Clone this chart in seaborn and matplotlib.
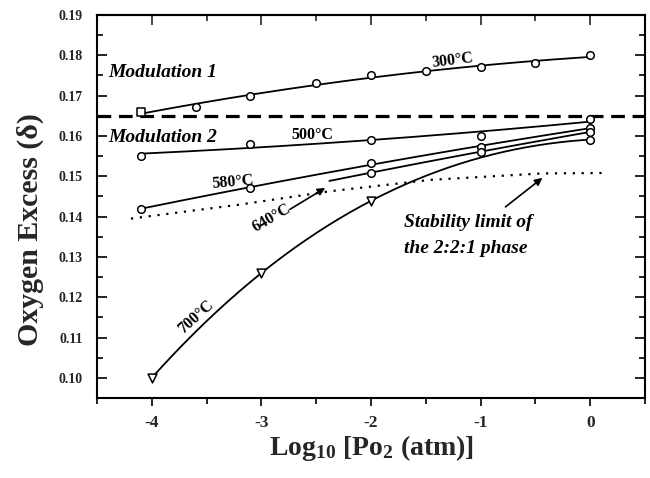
import numpy as np
import matplotlib
matplotlib.use("Agg")
import matplotlib.pyplot as plt
import seaborn as sns
from matplotlib.ticker import MultipleLocator, FormatStrFormatter

# ---------------- data ----------------
x_300 = [-4.1, -3.6, -3.1, -2.5, -2.0, -1.5, -1.0, -0.5, 0.0]
y_300 = [0.1660, 0.1671, 0.1700, 0.1731, 0.1751, 0.1761, 0.1770, 0.1780, 0.1801]
x_500 = [-4.1, -3.1, -2.0, -1.0, 0.0]
y_500 = [0.1551, 0.1580, 0.1591, 0.1600, 0.1641]
x_580 = [-4.1, -3.1, -2.0, -1.0, 0.0]
y_580 = [0.1420, 0.1471, 0.1532, 0.1573, 0.1620]
x_640 = [-2.0, -1.0, 0.0]
y_640 = [0.1509, 0.1561, 0.1610]
x_700 = [-4.0, -3.0, -2.0, 0.0]
y_700 = [0.1000, 0.1260, 0.1439, 0.1591]
x_limit = [-4.19, -3.19, -2.37, -1.46, -0.44, 0.11]
y_limit = [0.1395, 0.1430, 0.1463, 0.1491, 0.1507, 0.1508]
modulation_boundary = 0.165
x_ticks = [-4, -3, -2, -1, 0]
y_ticks = [0.10, 0.11, 0.12, 0.13, 0.14, 0.15, 0.16, 0.17, 0.18, 0.19]

# ---------------- styles ----------------
series = [
    # x, y, markers, fit order, curve start
    (x_300, y_300, ["s"] + ["o"] * 8, 2, -4.1),
    (x_500, y_500, ["o"] * 5, 2, -4.1),
    (x_580, y_580, ["o"] * 5, 2, -4.1),
    (x_640, y_640, ["o"] * 3, 2, -2.38),
    (x_700, y_700, ["v", "v", "v", "o"], 3, -4.0),
]

sns.set_style("ticks")
plt.rcParams["font.family"] = ["Liberation Serif", "DejaVu Serif"]
plt.rcParams["font.weight"] = "bold"
plt.rcParams["mathtext.fontset"] = "custom"
plt.rcParams["mathtext.rm"] = "Liberation Serif:bold"
plt.rcParams["mathtext.bf"] = "Liberation Serif:bold"
plt.rcParams["mathtext.it"] = "Liberation Serif:bold:italic"

fig = plt.figure(figsize=(6.5, 4.78), dpi=100)
ax = fig.add_axes([97 / 650, 1 - 398 / 478, 548 / 650, 383 / 478])

for xs, ys, mks, order, start in series:
    coef = np.polyfit(xs, ys, order)
    xf = np.linspace(start, max(xs), 200)
    yf = np.polyval(coef, xf)
    sns.lineplot(x=xf, y=yf, color="black", lw=1.3, ax=ax, zorder=2)
    for m in sorted(set(mks)):
        idx = [i for i, mm in enumerate(mks) if mm == m]
        sns.scatterplot(x=[xs[i] for i in idx], y=[ys[i] for i in idx], marker=m,
                        s=40 if m == "v" else 30, facecolor="white", edgecolor="black",
                        linewidth=1.1, ax=ax, zorder=3)

# stability limit (dotted)
sns.lineplot(x=x_limit, y=y_limit, color="black", lw=1.6, ax=ax,
             linestyle=(0, (1, 3.0)), zorder=1, sort=False)
# modulation boundary (thick dashed)
ax.axhline(modulation_boundary, color="black", lw=2.3, linestyle=(0, (4.3, 2.4)), zorder=1)

# axes
ax.set_xlim(-4.5, 0.5)
ax.set_ylim(0.095, 0.19)
ax.set_xticks(x_ticks)
ax.set_yticks(y_ticks)
ax.xaxis.set_major_formatter(FormatStrFormatter("%d"))
ax.yaxis.set_major_formatter(FormatStrFormatter("%.2f"))
ax.xaxis.set_minor_locator(MultipleLocator(0.5))
ax.yaxis.set_minor_locator(MultipleLocator(0.005))
for s in ax.spines.values():
    s.set_linewidth(1.5)
    s.set_color("black")
    s.set_visible(True)
ax.tick_params(axis="x", which="both", direction="out", top=False, bottom=True,
               labelsize=12.5, pad=6, width=1.2, color="black")
ax.tick_params(axis="x", which="major", length=6)
ax.tick_params(axis="x", which="minor", length=4)
ax.tick_params(axis="y", which="both", direction="in", left=True, right=True,
               labelsize=10, pad=10, width=1.2, color="black")
ax.tick_params(axis="y", which="major", length=7)
ax.tick_params(axis="y", which="minor", length=4)

top = ax.secondary_xaxis("top")
top.set_xticks(x_ticks)
top.xaxis.set_minor_locator(MultipleLocator(0.5))
top.tick_params(axis="x", which="both", direction="in", labeltop=False, width=1.2)
top.tick_params(axis="x", which="major", length=7)
top.tick_params(axis="x", which="minor", length=4)
top.spines["top"].set_linewidth(1.5)

ax.set_xlabel("Log$_{10}$ [Po$_2$ (atm)]", fontsize=20, fontweight="bold", labelpad=2)
ax.set_ylabel("Oxygen Excess (δ)", fontsize=21.5, fontweight="bold")
ax.yaxis.set_label_coords(-0.097, 0.44)

# annotations
lab = dict(fontsize=11.5, fontweight="bold", ha="center", va="center", color="black")
ax.text(-1.255, 0.1786, "300°C", rotation=7, **lab)
ax.text(-2.536, 0.1602, "500°C", rotation=0, **lab)
ax.text(-3.264, 0.1486, "580°C", rotation=5, **lab)
ax.text(-2.903, 0.1396, "640°C", rotation=30, **lab)
ax.text(-3.6, 0.1151, "700°C", rotation=42, **lab)

it = dict(fontsize=14, fontweight="bold", fontstyle="italic", va="center", ha="left", color="black")
ax.text(-4.4, 0.1757, "Modulation 1", **it)
ax.text(-4.4, 0.1597, "Modulation 2", **it)
ax.text(-1.7, 0.1386, "Stability limit of", **it)
ax.text(-1.7, 0.1322, "the 2:2:1 phase", **it)

arrow = dict(arrowstyle="-|>", color="black", lw=1.2, mutation_scale=11, shrinkA=0, shrinkB=0)
ax.annotate("", xy=(-2.418, 0.1471), xytext=(-2.739, 0.1418), arrowprops=arrow)
ax.annotate("", xy=(-0.436, 0.1496), xytext=(-0.773, 0.1424), arrowprops=arrow)

fig.savefig("out.png", dpi=100)
